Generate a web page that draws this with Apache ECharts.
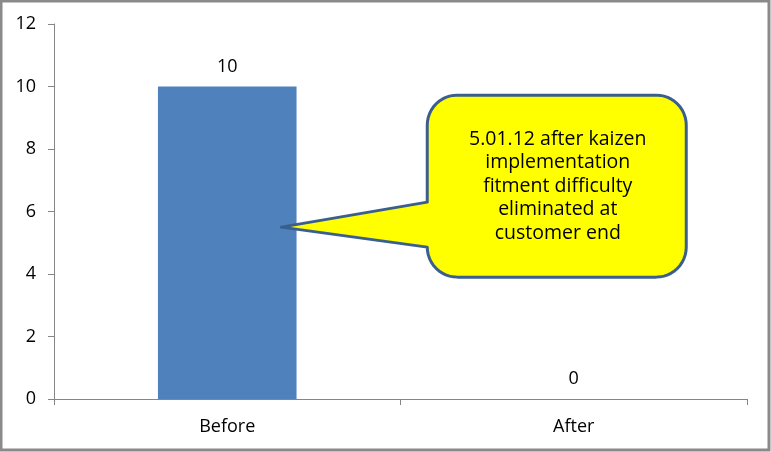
<!DOCTYPE html>
<html>
<head>
<meta charset="utf-8">
<script src="https://cdn.jsdelivr.net/npm/echarts@6/dist/echarts.min.js"></script>
<style>
html,body{margin:0;padding:0;background:#fff;}
#c{width:771px;height:452px;}
</style>
</head>
<body>
<div id="c"></div>
<script>
const categories = ['Before', 'After'];
const values = [10, 0];
const yTicks = [0, 2, 4, 6, 8, 10, 12];
const calloutText = '5.01.12 after kaizen\nimplementation\nfitment difficulty\neliminated at\ncustomer end';
const calloutAnchor = ['Before', 5.5];

const FONT = '"Open Sans", Lato, sans-serif';
const chart = echarts.init(document.getElementById('c'));
chart.setOption({
  animation: false,
  backgroundColor: '#fff',
  grid: {left: 54, right: 24, top: 24, bottom: 53},
  xAxis: {
    type: 'category',
    data: categories,
    axisLine: {lineStyle: {color: '#868686', width: 1}},
    axisTick: {show: true, length: 6, lineStyle: {color: '#868686'}},
    axisLabel: {color: '#000', fontSize: 18, fontFamily: FONT, margin: 19}
  },
  yAxis: {
    type: 'value',
    min: yTicks[0],
    max: yTicks[yTicks.length - 1],
    interval: 2,
    axisLine: {show: true, lineStyle: {color: '#868686', width: 1}},
    axisTick: {show: true, length: 6, lineStyle: {color: '#868686'}},
    splitLine: {show: false},
    axisLabel: {color: '#000', fontSize: 18, fontFamily: FONT, margin: 18}
  },
  series: [{
    type: 'bar',
    data: values,
    barWidth: '40%',
    itemStyle: {color: '#4F81BD'},
    label: {show: true, position: 'top', distance: 11, color: '#000', fontSize: 18, fontFamily: FONT}
  }]
});

// Callout positioned relative to data anchor (tip sits inside the right part of the bar)
const anchor = chart.convertToPixel({seriesIndex: 0}, calloutAnchor);
const tip = [anchor[0] + 54, anchor[1]];
const bx = tip[0] + 146, by = tip[1] - 132, bw = 259, bh = 182, r = 30;
const baseTop = tip[1] - 25, baseBot = tip[1] + 20;

function arcPts(cx, cy, a0, a1) {
  const pts = [];
  const n = 12;
  for (let i = 0; i <= n; i++) {
    const a = a0 + (a1 - a0) * i / n;
    pts.push([cx + r * Math.cos(a), cy + r * Math.sin(a)]);
  }
  return pts;
}
const PI = Math.PI;
let pts = [];
pts = pts.concat(arcPts(bx + r, by + r, PI, 1.5 * PI));
pts = pts.concat(arcPts(bx + bw - r, by + r, 1.5 * PI, 2 * PI));
pts = pts.concat(arcPts(bx + bw - r, by + bh - r, 0, 0.5 * PI));
pts = pts.concat(arcPts(bx + r, by + bh - r, 0.5 * PI, PI));
pts.push([bx, baseBot]);
pts.push([tip[0], tip[1]]);
pts.push([bx, baseTop]);

chart.setOption({
  graphic: [
    {
      type: 'polygon',
      shape: {points: pts},
      style: {fill: '#FFFF00', stroke: '#3A5F8E', lineWidth: 3, lineJoin: 'round'},
      z: 100
    },
    {
      type: 'text',
      x: bx + bw / 2 + 1,
      y: tip[1] - 41,
      style: {
        text: calloutText,
        fill: '#000',
        fontSize: 19.5,
        fontFamily: FONT,
        lineHeight: 23.5,
        align: 'center',
        verticalAlign: 'middle'
      },
      z: 101
    },
    {
      type: 'rect',
      shape: {x: 1, y: 1, width: 768, height: 449},
      style: {fill: 'none', stroke: '#8A8A8A', lineWidth: 3},
      z: 200
    }
  ]
});
</script>
</body>
</html>
